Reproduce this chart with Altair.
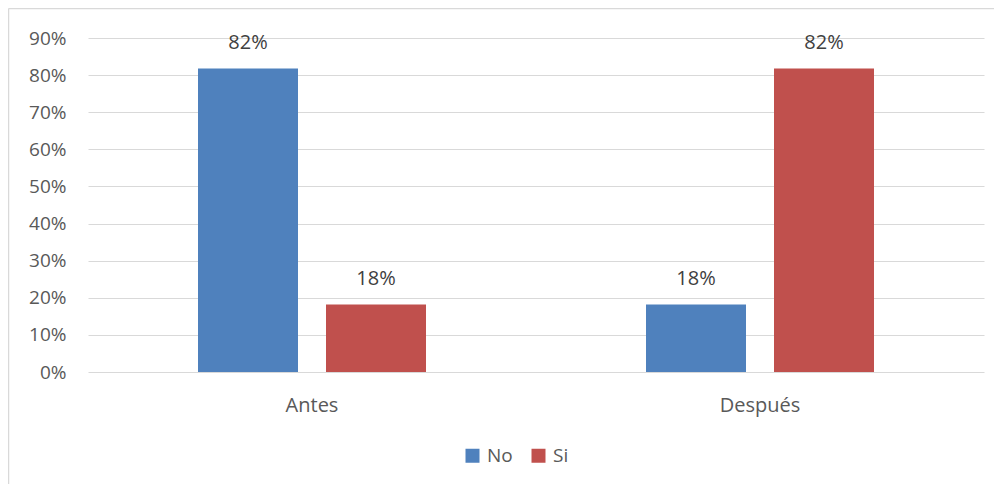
import altair as alt
import pandas as pd

categories = ["Antes", "Después"]
series = ["No", "Si"]
no_values = [0.818, 0.182]
si_values = [0.182, 0.818]
colors = ["#4F81BD", "#C0504D"]
y_ticks = [0, 0.1, 0.2, 0.3, 0.4, 0.5, 0.6, 0.7, 0.8, 0.9]

rows = []
for i, c in enumerate(categories):
    rows.append({"cat": c, "serie": "No", "val": no_values[i]})
    rows.append({"cat": c, "serie": "Si", "val": si_values[i]})
df = pd.DataFrame(rows)

FONT = "Open Sans"
TXT = "#595959"

x_enc = alt.X("cat:N", sort=categories, title=None,
              scale=alt.Scale(paddingInner=0, paddingOuter=0),
              axis=alt.Axis(labelAngle=0, domain=False, ticks=False, labelPadding=23,
                            labelFont=FONT, labelFontSize=20, labelColor=TXT))
xo_enc = alt.XOffset("serie:N", sort=series,
                     scale=alt.Scale(paddingInner=0.21875, paddingOuter=0.859375))
y_enc = alt.Y("val:Q", title=None,
              scale=alt.Scale(domain=[0, 0.9], nice=False),
              axis=alt.Axis(values=y_ticks, format=".0%", domain=False, ticks=False,
                            labelOverlap=False, labelBound=False,
                            labelPadding=22, labelFont=FONT, labelFontSize=19,
                            labelColor=TXT, gridColor="#D9D9D9", gridWidth=1.2))

bars = alt.Chart(df).mark_bar().encode(
    x=x_enc, xOffset=xo_enc, y=y_enc,
    color=alt.Color("serie:N", sort=series, title=None,
                    scale=alt.Scale(domain=series, range=colors),
                    legend=alt.Legend(orient="none", direction="horizontal",
                                      legendX=375, legendY=408,
                                      symbolType="square", symbolSize=196,
                                      symbolStrokeWidth=0, padding=0,
                                      labelFont=FONT, labelFontSize=19,
                                      labelColor=TXT, labelOffset=5,
                                      columnPadding=16))
)

labels = alt.Chart(df).mark_text(font=FONT, fontSize=20, color="#404040",
                                 baseline="alphabetic", dy=-19).encode(
    x=x_enc, xOffset=xo_enc, y=y_enc,
    text=alt.Text("val:Q", format=".0%")
)

frame_data = alt.Data(values=[{}])
frame_left = alt.Chart(frame_data).mark_rule(color="#D9D9D9", strokeWidth=1.5).encode(
    x=alt.value(-79.5), y=alt.value(-29.5), y2=alt.value(480))
frame_top = alt.Chart(frame_data).mark_rule(color="#D9D9D9", strokeWidth=1.5).encode(
    x=alt.value(-79.5), x2=alt.value(930), y=alt.value(-29.5))

chart = alt.layer(frame_left, frame_top, bars, labels).properties(
    width=896, height=334,
    autosize=alt.AutoSizeParams(type="none"),
    padding={"left": 80, "top": 30, "right": 10, "bottom": 112},
).configure(background="white").configure_view(stroke=None)

chart.save("out.html", embed_options={"renderer": "svg", "actions": False})
